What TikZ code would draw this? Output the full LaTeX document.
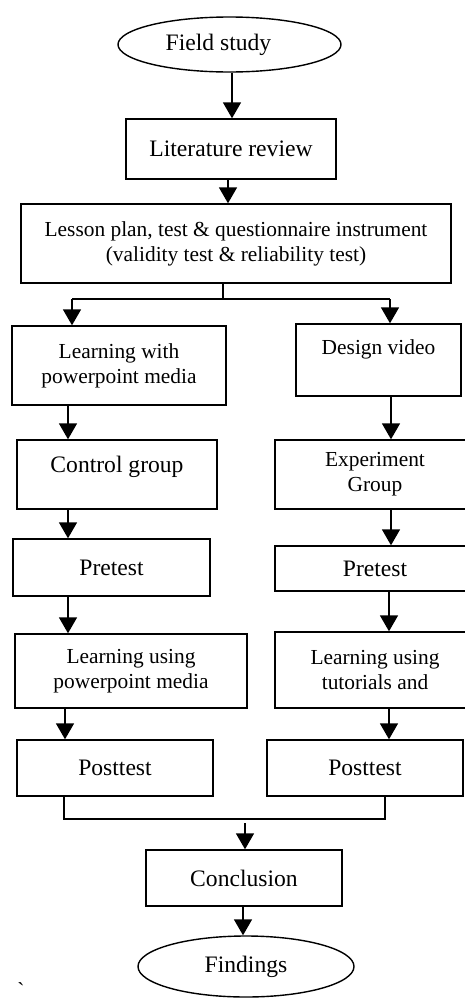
\documentclass[tikz,border=0pt]{standalone}
\usepackage{fontspec}
\setmainfont{Liberation Serif}
\newfontfamily\rawfont{Liberation Serif}[Ligatures=TeXOff]
\usetikzlibrary{arrows.meta,shapes.geometric}
\begin{document}
\begin{tikzpicture}[x=1pt,y=-1pt,
  box/.style={draw, line width=1.4pt, inner sep=0pt, align=center, font=\fontsize{23.6}{27}\selectfont},
  sm/.style={font=\fontsize{21.4}{25}\selectfont},
  oval/.style={ellipse, draw, line width=1.4pt, inner sep=0pt, align=center, font=\fontsize{23.6}{27}\selectfont},
  arr/.style={line width=1.7pt, -{Triangle[width=18pt,length=16pt]}},
  ln/.style={line width=1.7pt}]
\useasboundingbox (0,0) rectangle (465,999);

% nodes
\node[oval, minimum width=223pt, minimum height=55pt] (field) at (229.5,44.5) {Field study\hspace*{22pt}};
\node[box, minimum width=210pt, minimum height=60pt] (lit) at (231,149) {Literature review};
\node[box, sm, minimum width=430pt, minimum height=79pt] (lesson) at (236,243.5)
  {Lesson plan, test \& questionnaire instrument\\(validity test \& reliability test)};
\node[box, sm, minimum width=214pt, minimum height=79pt] (lwp) at (119,365.5) {Learning with\\powerpoint media};
\node[box, sm, minimum width=165pt, minimum height=72pt] (dv) at (378.5,360) {Design video\\\mbox{}};
\node[box, minimum width=200pt, minimum height=69pt] (cg) at (117,474.5) {Control group\\[-6pt]\mbox{}};
\node[box, sm, minimum width=200pt, minimum height=69pt] (eg) at (375,474.5) {Experiment\\Group};
\node[box, minimum width=197pt, minimum height=57pt] (pl) at (111.5,567.5) {Pretest};
\node[box, minimum width=200pt, minimum height=45pt] (pr) at (375,568.5) {Pretest};
\node[box, sm, minimum width=232pt, minimum height=74pt] (ll) at (131,671) {Learning using\\powerpoint media};
\node[box, sm, minimum width=200pt, minimum height=76pt] (lr) at (375,670) {Learning using\\tutorials and};
\node[box, minimum width=196pt, minimum height=56pt] (postl) at (115,768) {Posttest};
\node[box, minimum width=196pt, minimum height=56pt] (postr) at (365,768) {Posttest};
\node[box, minimum width=196pt, minimum height=56pt] (concl) at (244,878) {Conclusion};
\node[oval, minimum width=216pt, minimum height=61pt] (find) at (246,966.5) {Findings};
\node[inner sep=0pt, anchor=base, font=\fontsize{21.4}{25}\rawfont] (bt) at (21,997) {\symbol{96}};

% guide coordinates
\coordinate (xa) at (232,0);
\coordinate (xb) at (228,0);
\coordinate (xs) at (223,0);
\coordinate (xl) at (68,0);
\coordinate (xl2) at (65,0);
\coordinate (xr) at (391,0);
\coordinate (xr2) at (389,0);
\coordinate (sl) at (72,299);
\coordinate (sr) at (390,299);
\coordinate (ml) at (64,819);
\coordinate (mr) at (385,819);
\coordinate (xc) at (245,0);
\coordinate (xf) at (243,0);

% connectors
\draw[arr] (xa |- field.south) -- (xa |- lit.north);
\draw[arr] (xb |- lit.south) -- (xb |- lesson.north);
\draw[ln] (xs |- lesson.south) -- (xs |- sl);
\draw[ln] (sl) -- (sr);
\draw[arr] (sl) -- (sl |- lwp.north);
\draw[arr] (sr) -- (sr |- dv.north);
\draw[arr] (xl |- lwp.south) -- (xl |- cg.north);
\draw[arr] (xr |- dv.south) -- (xr |- eg.north);
\draw[arr] (xl |- cg.south) -- (xl |- pl.north);
\draw[arr] (xr |- eg.south) -- (xr |- pr.north);
\draw[arr] (xl |- pl.south) -- (xl |- ll.north);
\draw[arr] (xr2 |- pr.south) -- (xr2 |- lr.north);
\draw[arr] (xl2 |- ll.south) -- (xl2 |- postl.north);
\draw[arr] (xr2 |- lr.south) -- (xr2 |- postr.north);
\draw[ln] (ml |- postl.south) -- (ml) -- (mr) -- (mr |- postr.south);
\draw[arr] ([yshift=-4pt]xc |- ml) -- (xc |- concl.north);
\draw[arr] (xf |- concl.south) -- (xf |- find.north);
\end{tikzpicture}
\end{document}
